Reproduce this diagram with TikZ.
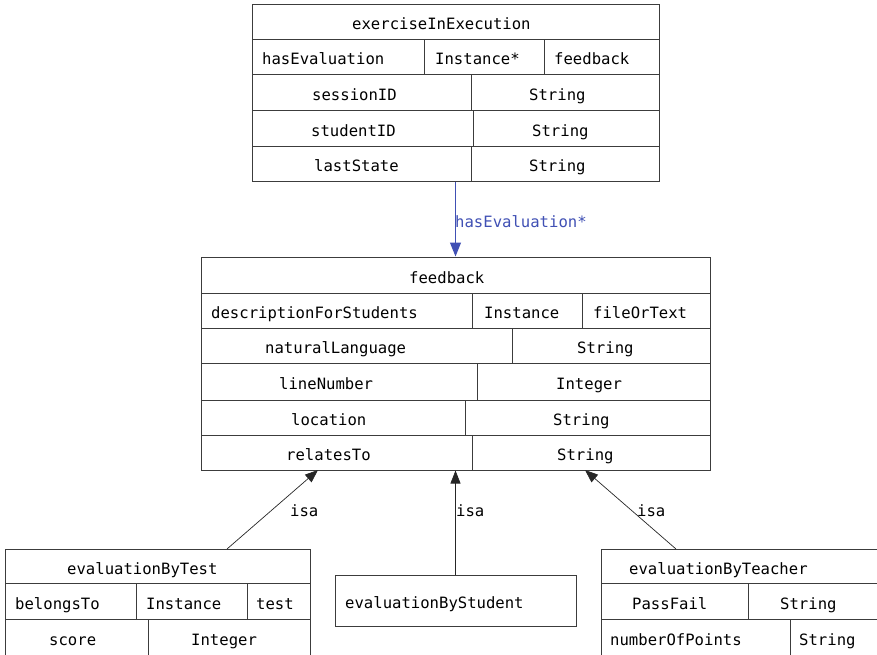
\documentclass[tikz,border=0pt]{standalone}
\usepackage{fontspec}
\setmonofont{DejaVu Sans Mono}
\usetikzlibrary{arrows.meta}

\begin{document}
\begin{tikzpicture}[
    x=1pt, y=-1pt,
    font=\ttfamily\fontsize{15.6}{18}\selectfont,
    record/.style={rectangle, draw=linegray, line width=1pt, inner sep=0pt},
    rule/.style={draw=linegray, line width=1pt},
    txt/.style={anchor=base west, inner sep=0pt},
    assoc/.style={draw=assocblue, line width=1pt, -{Triangle[length=14pt, width=11pt]}},
    isa/.style={draw=black!85, line width=0.7pt, -{Triangle[length=13pt, width=10pt]}}
]
\definecolor{linegray}{RGB}{60,60,60}
\definecolor{assocblue}{RGB}{64,80,180}

\useasboundingbox (0,0) rectangle (877,654);
\clip (0,0) rectangle (877,654);

% exerciseInExecution
\node[record, minimum width=407, minimum height=177] (exec) at (455.5,92.5) {};
\draw[rule] (252,39) -- (659,39);
\draw[rule] (252,74) -- (659,74);
\draw[rule] (252,110) -- (659,110);
\draw[rule] (252,146) -- (659,146);
\draw[rule] (424,39) -- (424,74);
\draw[rule] (544,39) -- (544,74);
\draw[rule] (471,74) -- (471,110);
\draw[rule] (473,110) -- (473,146);
\draw[rule] (471,146) -- (471,181);
\node[txt] (execName) at (352,29.5) {exerciseInExecution};
\node[txt] (execHas) at (262,64.5) {hasEvaluation};
\node[txt] (execHasT) at (435,64.5) {Instance*};
\node[txt] (execHasR) at (554,64.5) {feedback};
\node[txt] (execSess) at (312,100) {sessionID};
\node[txt] (execSessT) at (529,100) {String};
\node[txt] (execStud) at (311,136) {studentID};
\node[txt] (execStudT) at (532,136) {String};
\node[txt] (execLast) at (314,171.5) {lastState};
\node[txt] (execLastT) at (529,171.5) {String};

% feedback
\node[record, minimum width=509, minimum height=213] (fb) at (455.5,363.5) {};
\draw[rule] (201,293) -- (710,293);
\draw[rule] (201,328) -- (710,328);
\draw[rule] (201,363) -- (710,363);
\draw[rule] (201,400) -- (710,400);
\draw[rule] (201,435) -- (710,435);
\draw[rule] (472,293) -- (472,328);
\draw[rule] (582,293) -- (582,328);
\draw[rule] (512,328) -- (512,363);
\draw[rule] (477,363) -- (477,400);
\draw[rule] (465,400) -- (465,435);
\draw[rule] (472,435) -- (472,470);
\node[txt] (fbName) at (409,283) {feedback};
\node[txt] (fbDesc) at (211,318.5) {descriptionForStudents};
\node[txt] (fbDescT) at (484,318.5) {Instance};
\node[txt] (fbDescR) at (593,318.5) {fileOrText};
\node[txt] (fbNat) at (265,353.5) {naturalLanguage};
\node[txt] (fbNatT) at (577,353.5) {String};
\node[txt] (fbLine) at (279,389.5) {lineNumber};
\node[txt] (fbLineT) at (556,389.5) {Integer};
\node[txt] (fbLoc) at (291,425.5) {location};
\node[txt] (fbLocT) at (553,425.5) {String};
\node[txt] (fbRel) at (286,460.5) {relatesTo};
\node[txt] (fbRelT) at (557,460.5) {String};

% evaluationByTest
\node[record, minimum width=305, minimum height=108] (byTest) at (157.5,603) {};
\draw[rule] (5,583) -- (310,583);
\draw[rule] (5,619) -- (310,619);
\draw[rule] (136,583) -- (136,619);
\draw[rule] (247,583) -- (247,619);
\draw[rule] (148,619) -- (148,657);
\node[txt] (testName) at (67,574) {evaluationByTest};
\node[txt] (testBel) at (15,609) {belongsTo};
\node[txt] (testBelT) at (146,609) {Instance};
\node[txt] (testBelR) at (256,609) {test};
\node[txt] (testScore) at (49,645) {score};
\node[txt] (testScoreT) at (191,645) {Integer};

% evaluationByStudent
\node[record, minimum width=241, minimum height=51] (byStudent) at (455.5,600.5) {};
\node[txt] (studName) at (345,608.5) {evaluationByStudent};

% evaluationByTeacher
\node[record, minimum width=300, minimum height=108] (byTeacher) at (751,603) {};
\draw[rule] (601,583) -- (901,583);
\draw[rule] (601,619) -- (901,619);
\draw[rule] (748,583) -- (748,619);
\draw[rule] (790,619) -- (790,657);
\node[txt] (teachName) at (629,574) {evaluationByTeacher};
\node[txt] (teachPass) at (632,609) {PassFail};
\node[txt] (teachPassT) at (780,609) {String};
\node[txt] (teachNum) at (610,645) {numberOfPoints};
\node[txt] (teachNumT) at (799,645) {String};

% connectors
\coordinate (testFoot) at (227,549);
\coordinate (testTip) at (318,470);
\coordinate (teachFoot) at (676,549);
\coordinate (teachTip) at (585,470);

\draw[assoc] (exec.south) -- (fb.north);
\node[txt, text=assocblue] (hasEvalLbl) at (455,227) {hasEvaluation*};

\draw[isa] (testFoot) -- (testTip);
\draw[isa] (byStudent.north) -- (fb.south);
\draw[isa] (teachFoot) -- (teachTip);
\node[txt] (isaTest) at (290,516) {isa};
\node[txt] (isaStudent) at (456,516) {isa};
\node[txt] (isaTeacher) at (637,516) {isa};
\end{tikzpicture}
\end{document}
